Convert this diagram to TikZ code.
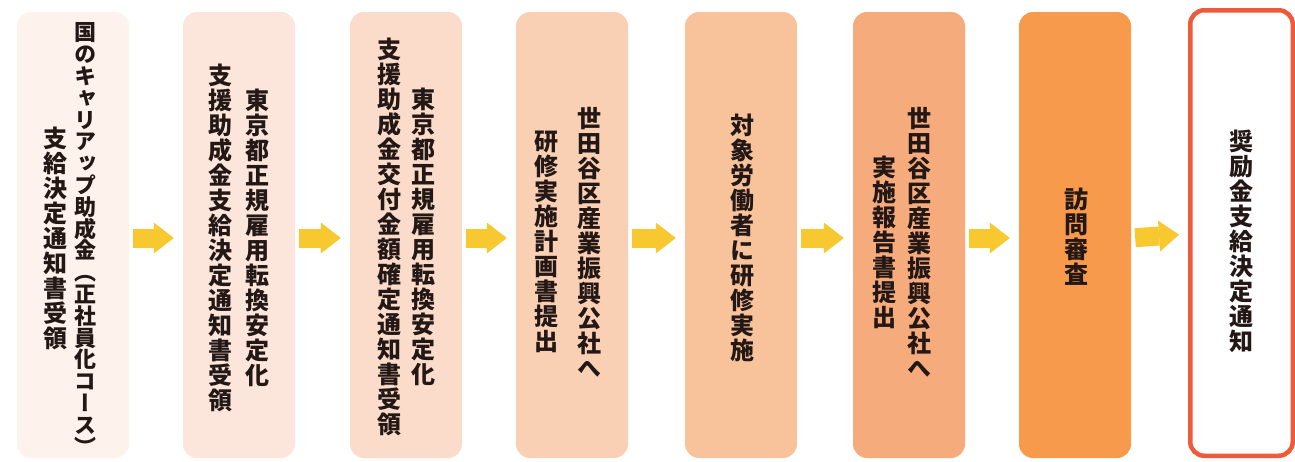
\documentclass[tikz,border=0pt]{standalone}
\usepackage{fontspec}
\usetikzlibrary{arrows.meta}
\newfontfamily\jpfont[RawFeature=+vert]{Noto Sans CJK JP}
\definecolor{stepA}{HTML}{FEF3EC}
\definecolor{stepB}{HTML}{FCE6DC}
\definecolor{stepC}{HTML}{FBDCCA}
\definecolor{stepD}{HTML}{F9D0B3}
\definecolor{stepE}{HTML}{F8C39A}
\definecolor{stepF}{HTML}{F5AB7C}
\definecolor{stepG}{HTML}{F79A4B}
\definecolor{stepH}{HTML}{EF5B3A}
\definecolor{arrowy}{HTML}{F7C830}
\definecolor{ink}{HTML}{231815}
% one column of vertical text, #1 = pitch
\makeatletter
\def\tatecol#1#2{$\vcenter{\baselineskip=#1\lineskiplimit=-\maxdimen\lineskip=0pt%
  \@tfor\tatech:=#2\do{\hbox to 1em{\hss\tatech\hss}}}$}
\makeatother

\begin{document}
\begin{tikzpicture}[x=1pt,y=-1pt,
	box/.style={rounded corners=14pt,minimum width=112pt,minimum height=446pt,inner sep=0pt},
	tate/.style={inner sep=0pt,text=ink,font=\jpfont\bfseries\fontsize{24}{25}\selectfont},
	nextstep/.style={draw=arrowy,line width=19pt,-{Triangle[length=20pt,width=31pt,line width=0pt]},shorten <=4pt,shorten >=9pt}]
		%%%%% START %%%%%
		\fill[white] (0,0) rectangle (1295,461);
		\useasboundingbox (0,0) rectangle (1295,461);
		
		\node[box,fill=stepA] (b1) at (73,235) {};
		\node[box,fill=stepB] (b2) at (239,235) {};
		\node[box,fill=stepC] (b3) at (406,235) {};
		\node[box,fill=stepD] (b4) at (572,235) {};
		\node[box,fill=stepE] (b5) at (741,235) {};
		\node[box,fill=stepF] (b6) at (909,235) {};
		\node[box,fill=stepG] (b7) at (1075,235) {};
		\node[box,draw=stepH,line width=4.5pt,fill=white,minimum width=102.5pt,minimum height=445.5pt] (b8) at (1241.5,233) {};
		
		\node[tate] (t1) at ([xshift=-3pt,yshift=-4pt]b1.center) {\tatecol{25pt}{支給決定通知書受領}\hspace{7pt}{\fontsize{22}{22}\selectfont\tatecol{21.8pt}{国のキャリアップ助成金（正社員化コース）}}};
		\node[tate] (t2) at ([yshift=-3pt]b2.center) {\tatecol{25pt}{支援助成金支給決定通知書受領}\hspace{13pt}\tatecol{25pt}{東京都正規雇用転換安定化}};
		\node[tate] (t3) at ([yshift=-2pt]b3.center) {\tatecol{25pt}{支援助成金交付金額確定通知書受領}\hspace{10pt}\tatecol{25pt}{東京都正規雇用転換安定化}};
		\node[tate] (t4) at ([xshift=-4pt,yshift=-7pt]b4.center) {\tatecol{25pt}{研修実施計画書提出}\hspace{19pt}\tatecol{25pt}{世田谷区産業振興公社へ}};
		\node[tate] (t5) at ([xshift=1pt,yshift=-3pt]b5.center) {\tatecol{25pt}{対象労働者に研修実施}};
		\node[tate] (t6) at ([xshift=-7pt,yshift=-7pt]b6.center) {\tatecol{25pt}{実施報告書提出}\hspace{11pt}\tatecol{25pt}{世田谷区産業振興公社へ}};
		\node[tate] (t7) at ([xshift=1pt,yshift=-2pt]b7.center) {\tatecol{25pt}{訪問審査}};
		\node[tate] (t8) at ([yshift=-8pt]b8.center) {\tatecol{25pt}{奨励金支給決定通知}};
		
		\draw[nextstep] ([yshift=-3pt]b1.east) -- ([yshift=-3pt]b2.west);
		\draw[nextstep] ([yshift=-3pt]b2.east) -- ([yshift=-3pt]b3.west);
		\draw[nextstep] ([yshift=-3pt]b3.east) -- ([yshift=-3pt]b4.west);
		\draw[nextstep] ([yshift=-3pt]b4.east) -- ([yshift=-3pt]b5.west);
		\draw[nextstep] ([yshift=-3pt]b5.east) -- ([yshift=-3pt]b6.west);
		\draw[nextstep] ([yshift=-3pt]b6.east) -- ([yshift=-3pt]b7.west);
		\draw[nextstep] ([yshift=-3pt]b7.east) -- ([yshift=-1pt]b8.west);
		
		%%%%% END %%%%%
	\end{tikzpicture}
\end{document}
